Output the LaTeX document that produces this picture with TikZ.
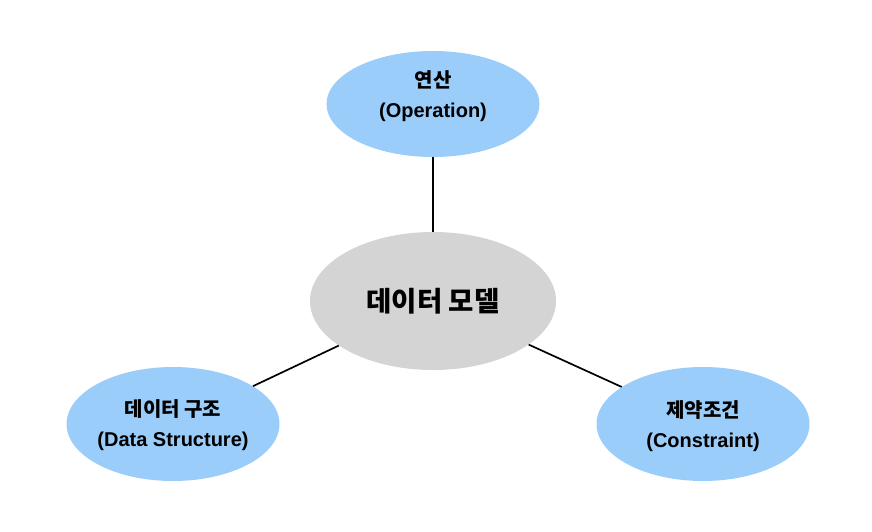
\documentclass[tikz,border=0pt]{standalone}
\usepackage{fontspec}
\setmainfont{Liberation Sans}
\newfontfamily\kr{Noto Sans CJK KR}
\usetikzlibrary{shapes.geometric}
\definecolor{leafblue}{HTML}{9ACDF9}
\definecolor{coregray}{HTML}{D4D4D4}
\tikzset{
  leaf/.style={ellipse, fill=leafblue, draw=none, inner sep=0pt,
    minimum width=213pt, minimum height=106pt},
  leaftext/.style={inner sep=0pt, align=center,
    font=\bfseries\fontsize{20}{30}\selectfont},
  core/.style={ellipse, fill=coregray, draw=none, inner sep=0pt,
    minimum width=246pt, minimum height=138pt, align=center,
    font=\kr\bfseries\fontsize{27.5}{30}\selectfont},
  link/.style={draw=black, line width=1.7pt}
}
\begin{document}
\begin{tikzpicture}[x=1pt,y=-1pt]
\useasboundingbox (0,0) rectangle (872,532);
\node[core] (model) at (433,301) {데이터 모델};
\node[leaf] (op) at (433,104) {};
\node[leaf, minimum height=114pt] (ds) at (173,424) {};
\node[leaf, minimum height=114pt] (cs) at (703,424) {};
\node[leaftext] (optext) at (433,96) {{\kr\bfseries 연산}\\(Operation)};
\node[leaftext] (dstext) at (173,425) {{\kr\bfseries 데이터 구조}\\(Data Structure)};
\node[leaftext] (cstext) at (703,426) {{\kr\bfseries 제약조건}\\(Constraint)};
\draw[link] (model) -- (op);
\draw[link] (model) -- (ds);
\draw[link] (model) -- (cs);
\end{tikzpicture}
\end{document}
